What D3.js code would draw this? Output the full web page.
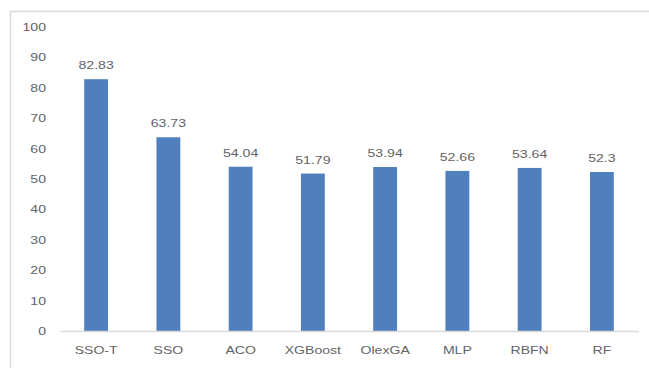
<!DOCTYPE html>
<html>
<head>
<meta charset="utf-8">
<script src="https://cdn.jsdelivr.net/npm/d3@7"></script>
<style>
  html, body { margin: 0; padding: 0; background: #fff; }
  svg { display: block; }
  text { font-family: "Liberation Sans", Arial, sans-serif; fill: #636363; }
</style>
</head>
<body>
<script>
// Model accuracy comparison
const categories = ["SSO-T", "SSO", "ACO", "XGBoost", "OlexGA", "MLP", "RBFN", "RF"];
const values = [82.83, 63.73, 54.04, 51.79, 53.94, 52.66, 53.64, 52.3];
const yTicks = [0, 10, 20, 30, 40, 50, 60, 70, 80, 90, 100];

const W = 649, H = 368;
const FONT = 11, STRETCH = 1.28;   // labels are set wide
const svg = d3.select("body").append("svg").attr("width", W).attr("height", H);

// chart frame (top and left edges)
svg.append("path")
  .attr("d", `M10.5,${H} V11.5 H${W}`)
  .attr("fill", "none")
  .attr("stroke", "#d9d9d9")
  .attr("stroke-width", 1.5);

const plot = { left: 60, right: 638, top: 27, bottom: 331 };

const x = d3.scaleBand().domain(categories).range([plot.left, plot.right]).paddingInner(0.67).paddingOuter(0.335);
const y = d3.scaleLinear().domain([0, 100]).range([plot.bottom, plot.top]);

// y axis labels (no axis line)
const yAxis = d3.axisLeft(y).tickValues(yTicks).tickSize(0).tickPadding(0);
const gy = svg.append("g").attr("transform", `translate(46,0)`).call(yAxis);
gy.select(".domain").remove();
gy.selectAll("text").attr("font-size", FONT).attr("font-family", null)
  .attr("transform", `scale(${STRETCH},1)`).style("fill", "#636363");

// bars
svg.append("g").selectAll("rect").data(values).join("rect")
  .attr("x", (d, i) => x(categories[i]))
  .attr("y", d => y(d))
  .attr("width", x.bandwidth())
  .attr("height", d => y(0) - y(d))
  .attr("fill", "#4f7fbd");

// value labels
svg.append("g").selectAll("g").data(values).join("g")
  .attr("transform", (d, i) => `translate(${x(categories[i]) + x.bandwidth() / 2},${y(d) - 10}) scale(${STRETCH},1)`)
  .append("text")
  .attr("text-anchor", "middle")
  .attr("font-size", FONT)
  .text(d => d);

// x axis
const xAxis = d3.axisBottom(x).tickSize(0).tickPadding(15.5);
const gx = svg.append("g").attr("transform", `translate(0,${plot.bottom})`).call(xAxis);
gx.select(".domain").attr("stroke", "#d9d9d9").attr("stroke-width", 1.5);
gx.selectAll("text").attr("font-size", FONT).attr("font-family", null)
  .attr("transform", `scale(${STRETCH},1)`).style("fill", "#636363");
</script>
</body>
</html>
